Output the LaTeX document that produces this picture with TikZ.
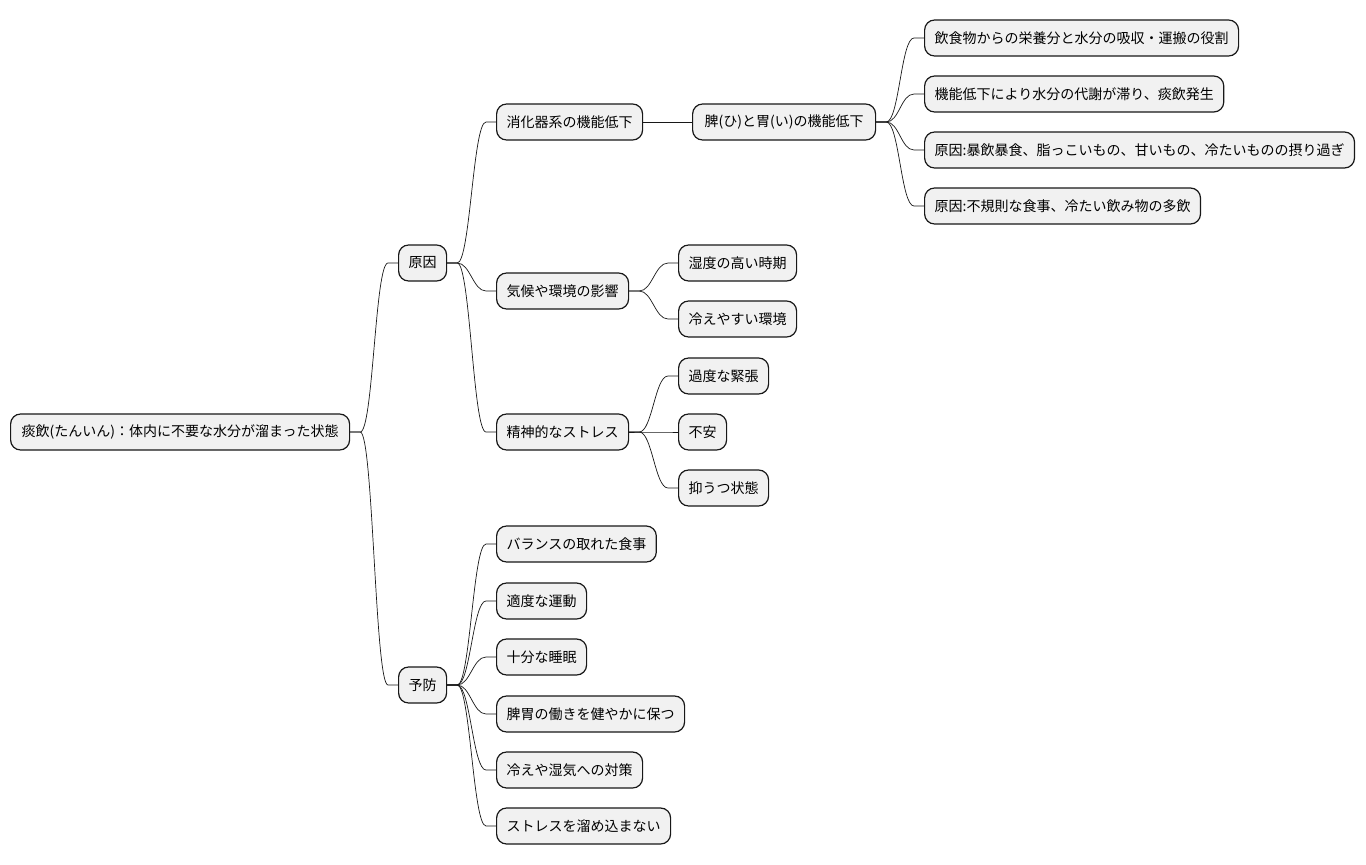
\documentclass[tikz,border=0pt]{standalone}
\usepackage{fontspec}
\setmainfont{Noto Sans CJK JP}
\definecolor{boxfill}{HTML}{F1F1F1}
\definecolor{boxline}{HTML}{181818}
\newcommand\mmlink[2]{\draw[link] (#1.east) -- ++(10,0) .. controls +(13,0) and +(-13,0) .. ([xshift=-10pt]#2.west) -- (#2.west);}
\begin{document}
\begin{tikzpicture}[x=1pt,y=-1pt,
  box/.style={draw=boxline, line width=1.2pt, fill=boxfill, rounded corners=10pt,
    minimum height=36pt, inner xsep=10pt, inner ysep=0pt, anchor=west,
    font=\fontsize{14}{16}\selectfont},
  link/.style={draw=boxline, line width=0.7pt}]
\useasboundingbox[fill=white] (0,0) rectangle (1366,865);
% level 0
\node[box, minimum width=339pt] (root) at (10,432) {痰飲(たんいん)：体内に不要な水分が溜まった状態};
% level 1
\node[box] (gen) at (398,263) {原因};
\node[box] (yobo) at (398,685) {予防};
% level 2 (原因)
\node[box] (shoka) at (496,122) {消化器系の機能低下};
\node[box] (kiko) at (496,291) {気候や環境の影響};
\node[box] (seishin) at (496,432) {精神的なストレス};
% level 3
\node[box, minimum width=183pt] (hii) at (692,122) {脾(ひ)と胃(い)の機能低下};
\node[box] (shitsu) at (678,263) {湿度の高い時期};
\node[box] (hie) at (678,319) {冷えやすい環境};
\node[box] (kindo) at (678,376) {過度な緊張};
\node[box] (fuan) at (678,432) {不安};
\node[box] (yokuu) at (678,488) {抑うつ状態};
% level 4
\node[box] (a1) at (924,38) {飲食物からの栄養分と水分の吸収・運搬の役割};
\node[box] (a2) at (924,94) {機能低下により水分の代謝が滞り、痰飲発生};
\node[box] (a3) at (924,150) {原因:暴飲暴食、脂っこいもの、甘いもの、冷たいものの摂り過ぎ};
\node[box] (a4) at (924,206) {原因:不規則な食事、冷たい飲み物の多飲};
% 予防 children
\node[box] (p1) at (496,544) {バランスの取れた食事};
\node[box] (p2) at (496,601) {適度な運動};
\node[box] (p3) at (496,657) {十分な睡眠};
\node[box] (p4) at (496,714) {脾胃の働きを健やかに保つ};
\node[box] (p5) at (496,770) {冷えや湿気への対策};
\node[box] (p6) at (496,826) {ストレスを溜め込まない};
% links
\mmlink{root}{gen}
\mmlink{root}{yobo}
\mmlink{gen}{shoka}
\mmlink{gen}{kiko}
\mmlink{gen}{seishin}
\draw[link] (shoka.east) -- (hii.west);
\mmlink{hii}{a1}
\mmlink{hii}{a2}
\mmlink{hii}{a3}
\mmlink{hii}{a4}
\mmlink{kiko}{shitsu}
\mmlink{kiko}{hie}
\mmlink{seishin}{kindo}
\mmlink{seishin}{fuan}
\mmlink{seishin}{yokuu}
\mmlink{yobo}{p1}
\mmlink{yobo}{p2}
\mmlink{yobo}{p3}
\mmlink{yobo}{p4}
\mmlink{yobo}{p5}
\mmlink{yobo}{p6}
\end{tikzpicture}
\end{document}
